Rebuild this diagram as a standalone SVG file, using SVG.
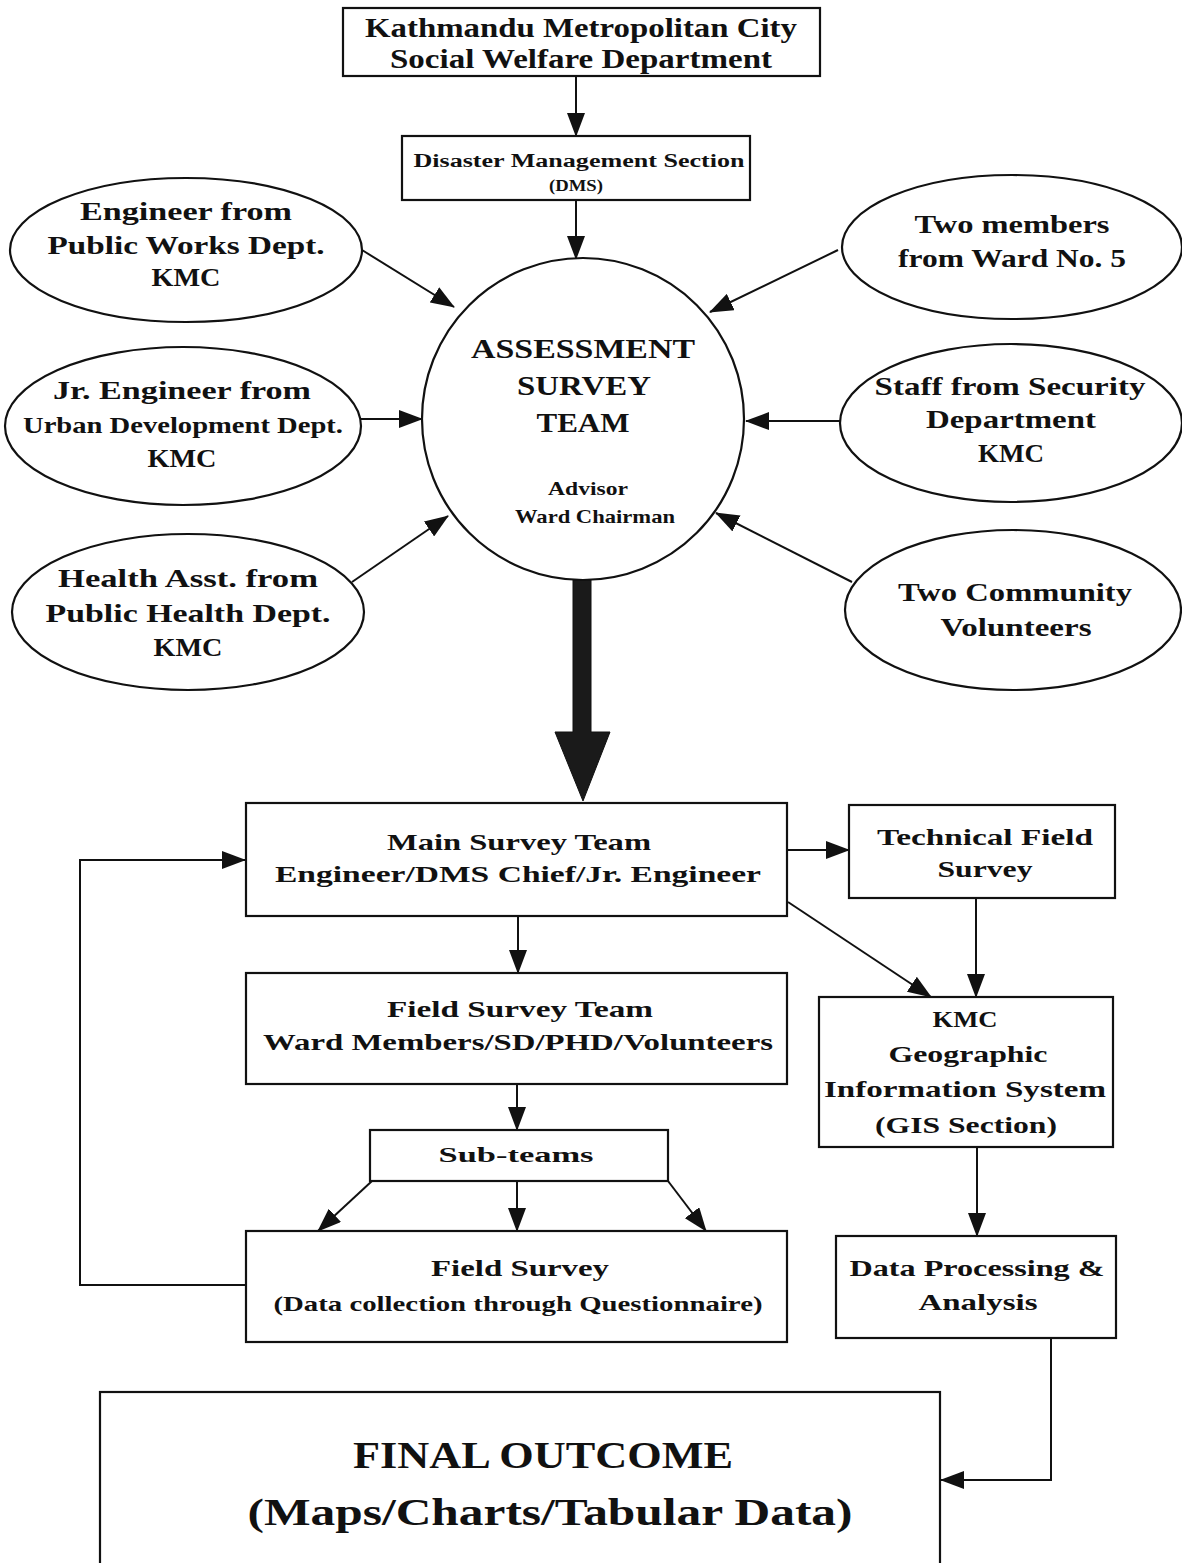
<svg xmlns="http://www.w3.org/2000/svg" width="1182" height="1563" viewBox="0 0 1182 1563">
<style>
.n{fill:#fff;stroke:#111;stroke-width:2.2}
.t{font-family:"Liberation Serif","DejaVu Serif",serif;font-weight:bold;fill:#111;text-anchor:middle}
.c{stroke:#111;stroke-width:2;fill:none}
</style>
<defs>
<marker id="ah" markerUnits="userSpaceOnUse" markerWidth="24" markerHeight="18" viewBox="0 0 24 18" refX="23" refY="9" orient="auto">
<path d="M0,0 L24,9 L0,18 Z" fill="#111"/>
</marker>
</defs>
<rect width="1182" height="1563" fill="#fff"/>

<g id="connectors">
<line class="c" x1="576" y1="76" x2="576" y2="136" marker-end="url(#ah)"/>
<line class="c" x1="576" y1="200" x2="576" y2="259" marker-end="url(#ah)"/>
<line class="c" x1="362" y1="250" x2="454" y2="307" marker-end="url(#ah)"/>
<line class="c" x1="360" y1="419" x2="422" y2="419" marker-end="url(#ah)"/>
<line class="c" x1="352" y1="582" x2="448" y2="516" marker-end="url(#ah)"/>
<line class="c" x1="838" y1="250" x2="710" y2="312" marker-end="url(#ah)"/>
<line class="c" x1="840" y1="421" x2="746" y2="421" marker-end="url(#ah)"/>
<line class="c" x1="852" y1="582" x2="716" y2="513" marker-end="url(#ah)"/>
<path d="M573,580 L591,580 L591,732 L610,732 L583,801 L555,732 L573,732 Z" fill="#1a1a1a" stroke="#111" stroke-width="1"/>
<line class="c" x1="518" y1="916" x2="518" y2="973" marker-end="url(#ah)"/>
<line class="c" x1="517" y1="1084" x2="517" y2="1130" marker-end="url(#ah)"/>
<line class="c" x1="372" y1="1181" x2="318" y2="1231" marker-end="url(#ah)"/>
<line class="c" x1="517" y1="1181" x2="517" y2="1231" marker-end="url(#ah)"/>
<line class="c" x1="668" y1="1181" x2="706" y2="1231" marker-end="url(#ah)"/>
<polyline class="c" points="245,1285 80,1285 80,860 245,860" marker-end="url(#ah)"/>
<line class="c" x1="787" y1="850" x2="849" y2="850" marker-end="url(#ah)"/>
<line class="c" x1="788" y1="902" x2="931" y2="997" marker-end="url(#ah)"/>
<line class="c" x1="976" y1="898" x2="976" y2="997" marker-end="url(#ah)"/>
<line class="c" x1="977" y1="1147" x2="977" y2="1236" marker-end="url(#ah)"/>
<polyline class="c" points="1051,1338 1051,1480 941,1480" marker-end="url(#ah)"/>
</g>

<g id="kmc">
<rect class="n" x="343" y="8" width="477" height="68"/>
<text class="t" x="581" y="37" font-size="27" textLength="432" lengthAdjust="spacingAndGlyphs">Kathmandu Metropolitan City</text>
<text class="t" x="581" y="68" font-size="27" textLength="382" lengthAdjust="spacingAndGlyphs">Social Welfare Department</text>
</g>

<g id="dms">
<rect class="n" x="402" y="136" width="348" height="64"/>
<text class="t" x="579" y="167" font-size="18" textLength="331" lengthAdjust="spacingAndGlyphs">Disaster Management Section</text>
<text class="t" x="576" y="191" font-size="16" textLength="54" lengthAdjust="spacingAndGlyphs">(DMS)</text>
</g>

<g id="team">
<circle class="n" cx="583" cy="419" r="161"/>
<text class="t" x="583" y="358" font-size="27" textLength="224" lengthAdjust="spacingAndGlyphs">ASSESSMENT</text>
<text class="t" x="584" y="395" font-size="27" textLength="134" lengthAdjust="spacingAndGlyphs">SURVEY</text>
<text class="t" x="583" y="432" font-size="27" textLength="93" lengthAdjust="spacingAndGlyphs">TEAM</text>
<text class="t" x="588" y="495" font-size="19" textLength="80" lengthAdjust="spacingAndGlyphs">Advisor</text>
<text class="t" x="595" y="523" font-size="19" textLength="160" lengthAdjust="spacingAndGlyphs">Ward Chairman</text>
</g>

<g id="e_pwd">
<ellipse class="n" cx="186" cy="250" rx="176" ry="72"/>
<text class="t" x="186" y="220" font-size="25" textLength="212" lengthAdjust="spacingAndGlyphs">Engineer from</text>
<text class="t" x="186" y="254" font-size="25" textLength="277" lengthAdjust="spacingAndGlyphs">Public Works Dept.</text>
<text class="t" x="186" y="286" font-size="25" textLength="69" lengthAdjust="spacingAndGlyphs">KMC</text>
</g>

<g id="e_udd">
<ellipse class="n" cx="183" cy="426" rx="178" ry="79"/>
<text class="t" x="182" y="399" font-size="25" textLength="258" lengthAdjust="spacingAndGlyphs">Jr. Engineer from</text>
<text class="t" x="183" y="433" font-size="23" textLength="320" lengthAdjust="spacingAndGlyphs">Urban Development Dept.</text>
<text class="t" x="182" y="467" font-size="25" textLength="69" lengthAdjust="spacingAndGlyphs">KMC</text>
</g>

<g id="e_phd">
<ellipse class="n" cx="188" cy="612" rx="176" ry="78"/>
<text class="t" x="188" y="587" font-size="25" textLength="260" lengthAdjust="spacingAndGlyphs">Health Asst. from</text>
<text class="t" x="188" y="622" font-size="25" textLength="285" lengthAdjust="spacingAndGlyphs">Public Health Dept.</text>
<text class="t" x="188" y="656" font-size="25" textLength="69" lengthAdjust="spacingAndGlyphs">KMC</text>
</g>

<g id="e_ward">
<ellipse class="n" cx="1012" cy="247" rx="170" ry="72"/>
<text class="t" x="1012" y="233" font-size="25" textLength="195" lengthAdjust="spacingAndGlyphs">Two members</text>
<text class="t" x="1012" y="267" font-size="25" textLength="228" lengthAdjust="spacingAndGlyphs">from Ward No. 5</text>
</g>

<g id="e_sec">
<ellipse class="n" cx="1011" cy="423" rx="171" ry="79"/>
<text class="t" x="1010" y="395" font-size="25" textLength="271" lengthAdjust="spacingAndGlyphs">Staff from Security</text>
<text class="t" x="1011" y="428" font-size="25" textLength="170" lengthAdjust="spacingAndGlyphs">Department</text>
<text class="t" x="1011" y="462" font-size="25" textLength="66" lengthAdjust="spacingAndGlyphs">KMC</text>
</g>

<g id="e_vol">
<ellipse class="n" cx="1013" cy="610" rx="168" ry="80"/>
<text class="t" x="1015" y="601" font-size="25" textLength="234" lengthAdjust="spacingAndGlyphs">Two Community</text>
<text class="t" x="1016" y="636" font-size="25" textLength="151" lengthAdjust="spacingAndGlyphs">Volunteers</text>
</g>

<g id="main">
<rect class="n" x="246" y="803" width="541" height="113"/>
<text class="t" x="519" y="850" font-size="24" textLength="264" lengthAdjust="spacingAndGlyphs">Main Survey Team</text>
<text class="t" x="518" y="882" font-size="24" textLength="486" lengthAdjust="spacingAndGlyphs">Engineer/DMS Chief/Jr. Engineer</text>
</g>

<g id="tech">
<rect class="n" x="849" y="805" width="266" height="93"/>
<text class="t" x="985" y="845" font-size="24" textLength="216" lengthAdjust="spacingAndGlyphs">Technical Field</text>
<text class="t" x="985" y="877" font-size="24" textLength="95" lengthAdjust="spacingAndGlyphs">Survey</text>
</g>

<g id="fst">
<rect class="n" x="246" y="973" width="541" height="111"/>
<text class="t" x="520" y="1017" font-size="24" textLength="266" lengthAdjust="spacingAndGlyphs">Field Survey Team</text>
<text class="t" x="518" y="1050" font-size="24" textLength="510" lengthAdjust="spacingAndGlyphs">Ward Members/SD/PHD/Volunteers</text>
</g>

<g id="gis">
<rect class="n" x="819" y="997" width="294" height="150"/>
<text class="t" x="965" y="1027" font-size="24" textLength="65" lengthAdjust="spacingAndGlyphs">KMC</text>
<text class="t" x="968" y="1062" font-size="24" textLength="159" lengthAdjust="spacingAndGlyphs">Geographic</text>
<text class="t" x="965" y="1097" font-size="24" textLength="282" lengthAdjust="spacingAndGlyphs">Information System</text>
<text class="t" x="966" y="1133" font-size="24" textLength="182" lengthAdjust="spacingAndGlyphs">(GIS Section)</text>
</g>

<g id="sub">
<rect class="n" x="370" y="1130" width="298" height="51"/>
<text class="t" x="516" y="1162" font-size="22" textLength="155" lengthAdjust="spacingAndGlyphs">Sub-teams</text>
</g>

<g id="fs">
<rect class="n" x="246" y="1231" width="541" height="111"/>
<text class="t" x="520" y="1276" font-size="23" textLength="178" lengthAdjust="spacingAndGlyphs">Field Survey</text>
<text class="t" x="518" y="1311" font-size="22" textLength="489" lengthAdjust="spacingAndGlyphs">(Data collection through Questionnaire)</text>
</g>

<g id="dp">
<rect class="n" x="836" y="1236" width="280" height="102"/>
<text class="t" x="977" y="1276" font-size="23" textLength="255" lengthAdjust="spacingAndGlyphs">Data Processing &amp;</text>
<text class="t" x="978" y="1310" font-size="23" textLength="119" lengthAdjust="spacingAndGlyphs">Analysis</text>
</g>

<g id="final">
<rect class="n" x="100" y="1392" width="840" height="190"/>
<text class="t" x="543" y="1468" font-size="38" textLength="380" lengthAdjust="spacingAndGlyphs">FINAL OUTCOME</text>
<text class="t" x="550" y="1525" font-size="38" textLength="605" lengthAdjust="spacingAndGlyphs">(Maps/Charts/Tabular Data)</text>
</g>
</svg>
